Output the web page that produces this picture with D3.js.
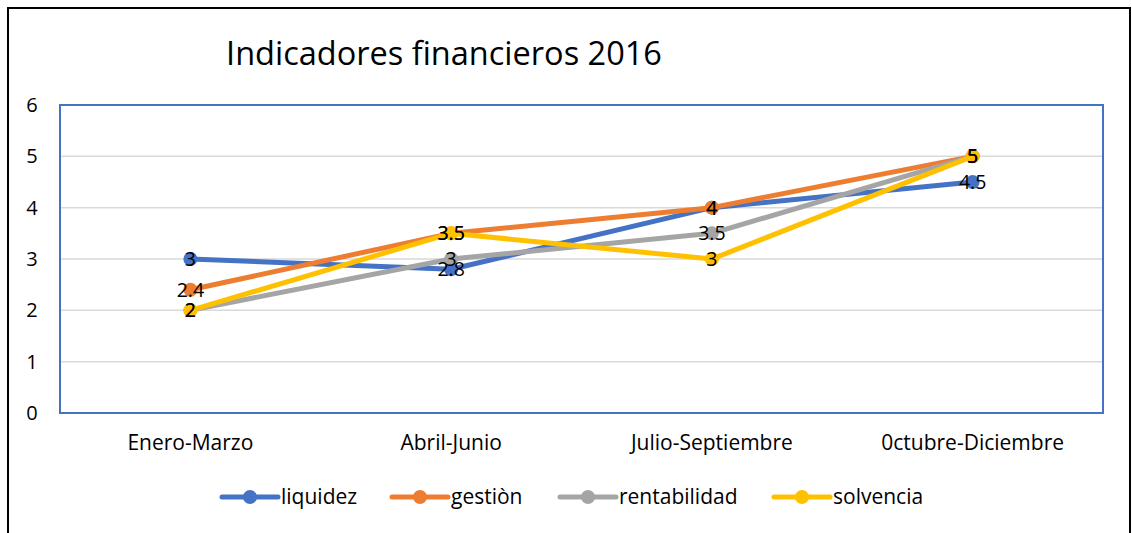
<!DOCTYPE html>
<html>
<head>
<meta charset="utf-8">
<script src="https://cdn.jsdelivr.net/npm/d3@7"></script>
<style>
  body { margin: 0; background: #fff; }
  text { font-family: "Open Sans", "Noto Sans", sans-serif; fill: #000; }
</style>
</head>
<body>
<script>
var categories = ["Enero-Marzo", "Abril-Junio", "Julio-Septiembre", "0ctubre-Diciembre"];
var seriesNames = ["liquidez", "gestiòn", "rentabilidad", "solvencia"];
var liquidez = [3, 2.8, 4, 4.5];
var gestion = [2.4, 3.5, 4, 5];
var rentabilidad = [2, 3, 3.5, 5];
var solvencia = [2, 3.5, 3, 5];
var yTicks = [0, 1, 2, 3, 4, 5, 6];
var colors = ["#4472C4", "#ED7D31", "#A5A5A5", "#FFC000"];

var values = [liquidez, gestion, rentabilidad, solvencia];

var width = 1132;
var height = 533;
var plot = {left: 60, right: 1103, top: 105, bottom: 413};

var svg = d3.select("body").append("svg")
	.attr("width", width)
	.attr("height", height);

// marco exterior (sin borde abajo)
svg.append("path")
	.attr("d", "M8,533 V8 H1130 V533")
	.attr("fill", "none")
	.attr("stroke", "#000")
	.attr("stroke-width", 2);

svg.append("text")
	.attr("x", 444).attr("y", 65)
	.attr("text-anchor", "middle")
	.style("font-size", "32.5px")
	.text("Indicadores financieros 2016");

var x = d3.scaleBand().domain(categories).range([plot.left, plot.right]);
var y = d3.scaleLinear().domain([0, 6]).range([plot.bottom, plot.top]);

// grid
svg.append("g").selectAll("line").data(yTicks.slice(1, -1)).enter()
	.append("line")
	.attr("x1", plot.left).attr("x2", plot.right)
	.attr("y1", function(d){ return y(d); })
	.attr("y2", function(d){ return y(d); })
	.attr("stroke", "#D9D9D9").attr("stroke-width", 1.5);

// eje y
var yAxis = svg.append("g")
	.attr("transform", "translate(" + plot.left + ",0)")
	.call(d3.axisLeft(y).tickValues(yTicks).tickFormat(d3.format("d")).tickSize(0).tickPadding(22));
yAxis.select(".domain").remove();
yAxis.selectAll("text").style("font-size", "20px").attr("text-anchor", "middle").attr("dx", "-6");

// eje x
var xAxis = svg.append("g")
	.attr("transform", "translate(0," + plot.bottom + ")")
	.call(d3.axisBottom(x).tickSize(0).tickPadding(22));
xAxis.select(".domain").remove();
xAxis.selectAll("text").style("font-size", "21px");

// borde del area
svg.append("rect")
	.attr("x", plot.left).attr("y", plot.top)
	.attr("width", plot.right - plot.left).attr("height", plot.bottom - plot.top)
	.attr("fill", "none")
	.attr("stroke", "#4472C4").attr("stroke-width", 2);

var line = d3.line()
	.x(function(d, i){ return x(categories[i]) + x.bandwidth() / 2; })
	.y(function(d){ return y(d); });

values.forEach(function(vals, s){
	var g = svg.append("g");
	g.append("path")
		.attr("d", line(vals))
		.attr("fill", "none")
		.attr("stroke", colors[s])
		.attr("stroke-width", 5)
		.attr("stroke-linejoin", "round");
	g.selectAll("circle").data(vals).enter().append("circle")
		.attr("cx", function(d, i){ return x(categories[i]) + x.bandwidth() / 2; })
		.attr("cy", function(d){ return y(d); })
		.attr("r", 7)
		.attr("fill", colors[s]);
});

// etiquetas de datos
values.forEach(function(vals, s){
	svg.append("g").selectAll("text").data(vals).enter().append("text")
		.attr("x", function(d, i){ return x(categories[i]) + x.bandwidth() / 2; })
		.attr("y", function(d){ return y(d); })
		.attr("dy", "0.36em")
		.attr("text-anchor", "middle")
		.style("font-size", "19.5px")
		.text(function(d){ return d; });
});

// leyenda
var legendX = [222, 392, 560, 774];
var legend = svg.append("g").selectAll("g").data(seriesNames).enter().append("g")
	.attr("transform", function(d, i){ return "translate(" + legendX[i] + ",497)"; });
legend.append("line")
	.attr("x1", 0).attr("x2", 56)
	.attr("stroke", function(d, i){ return colors[i]; })
	.attr("stroke-width", 5).attr("stroke-linecap", "round");
legend.append("circle")
	.attr("cx", 28).attr("r", 7)
	.attr("fill", function(d, i){ return colors[i]; });
legend.append("text")
	.attr("x", 59).attr("dy", "0.35em")
	.style("font-size", "21px")
	.text(function(d){ return d; });
</script>
</body>
</html>
